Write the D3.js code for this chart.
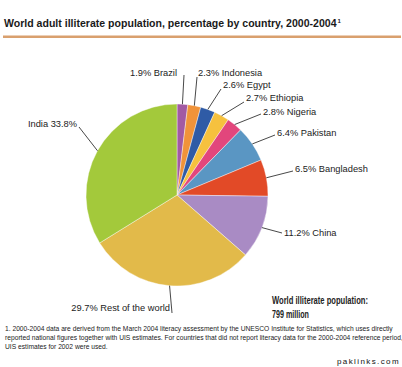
<!DOCTYPE html>
<html>
<head>
<meta charset="utf-8">
<title>World adult illiterate population</title>
<style>
  body { margin: 0; background: #fff; }
  svg { display: block; }
  text { font-family: "Liberation Sans", Arial, sans-serif; }
</style>
</head>
<body>
<svg id="viz" width="402" height="367"></svg>
<script src="https://cdn.jsdelivr.net/npm/d3@7/dist/d3.min.js"></script>
<script>
// data
var countries = ["Brazil", "Indonesia", "Egypt", "Ethiopia", "Nigeria", "Pakistan", "Bangladesh", "China", "Rest of the world", "India"];
var shares = [1.9, 2.3, 2.6, 2.7, 2.8, 6.4, 6.5, 11.2, 29.7, 33.8];
var palette = ["#a25aa3", "#f0933a", "#2f5ba6", "#f6c13e", "#e2467c", "#5a96c3", "#e24a27", "#a98bc4", "#e2ba4a", "#a3c93b"];

// label placement: [text x, baseline y, anchor, line end x, line end y]
var labelPos = {
  "Brazil":            [177, 76, "end",   184, 75],
  "Indonesia":         [198, 76, "start", 197, 77],
  "Egypt":             [223, 88, "start", 221, 89],
  "Ethiopia":          [246, 101, "start", 244, 102],
  "Nigeria":           [263, 115, "start", 261, 114],
  "Pakistan":          [277, 136, "start", 275, 135],
  "Bangladesh":        [295, 172, "start", 293, 171],
  "China":             [284, 236, "start", 282, 233],
  "Rest of the world": [170, 311, "end",   172, 313],
  "India":             [77, 127, "end",   79, 127]
};

var svg = d3.select("#viz");
var cx = 177, cy = 195, r = 91;

// squeeze a text horizontally so it spans w pixels
function squeeze(t, x, y, w) {
  var n = t.node().getComputedTextLength();
  t.attr("x", 0).attr("y", 0)
    .attr("transform", `translate(${x},${y}) scale(${w / n},1)`);
}

// title
var title = svg.append("text")
  .attr("font-size", "10.5px").attr("font-weight", "bold").attr("fill", "#1a1a1a")
  .text("World adult illiterate population, percentage by country, 2000-2004");
squeeze(title, 4, 27, 333);
svg.append("text")
  .attr("x", 337.5).attr("y", 23)
  .attr("font-size", "6px").attr("font-weight", "bold").attr("fill", "#1a1a1a")
  .text("1");

svg.append("rect").attr("x", 3).attr("y", 35.5).attr("width", 398).attr("height", 2.5).attr("fill", "#d9a06e");

var rows = countries.map((c, i) => ({country: c, value: shares[i]}));
var color = d3.scaleOrdinal().domain(countries).range(palette);

var pie = d3.pie().sort(null).value(d => d.value);
var arcs = pie(rows);
var arc = d3.arc().innerRadius(0).outerRadius(r);
var edge = d3.arc().innerRadius(r).outerRadius(r);

var g = svg.append("g").attr("transform", `translate(${cx},${cy})`);

g.selectAll("path")
  .data(arcs)
  .enter().append("path")
  .attr("d", arc)
  .attr("fill", d => color(d.data.country))
  .attr("stroke", "#fff")
  .attr("stroke-width", 0.4);

// leader lines
svg.selectAll("line.lead")
  .data(arcs)
  .enter().append("line")
  .attr("class", "lead")
  .attr("x1", d => cx + edge.centroid(d)[0])
  .attr("y1", d => cy + edge.centroid(d)[1])
  .attr("x2", d => labelPos[d.data.country][3])
  .attr("y2", d => labelPos[d.data.country][4])
  .attr("stroke", "#333")
  .attr("stroke-width", 0.9);

// labels
svg.selectAll("text.lbl")
  .data(arcs)
  .enter().append("text")
  .attr("class", "lbl")
  .attr("x", d => labelPos[d.data.country][0])
  .attr("y", d => labelPos[d.data.country][1])
  .attr("text-anchor", d => labelPos[d.data.country][2])
  .attr("font-size", "9.3px")
  .attr("fill", "#222")
  .text(d => d.data.country == "India" ? "India " + d.data.value.toFixed(1) + "%" : d.data.value.toFixed(1) + "% " + d.data.country);

// total
var tot1 = svg.append("text")
  .attr("font-size", "10.5px").attr("font-weight", "bold").attr("fill", "#222")
  .text("World illiterate population:");
squeeze(tot1, 272, 304, 96);
var tot2 = svg.append("text")
  .attr("font-size", "10.5px").attr("font-weight", "bold").attr("fill", "#222")
  .text("799 million");
squeeze(tot2, 272, 318, 37);

// footnote
var notes = [
  "1. 2000-2004 data are derived from the March 2004 literacy assessment by the UNESCO Institute for Statistics, which uses directly",
  "reported national figures together with UIS estimates. For countries that did not report literacy data for the 2000-2004 reference period,",
  "UIS estimates for 2002 were used."
];
svg.selectAll("text.note")
  .data(notes)
  .enter().append("text")
  .attr("class", "note")
  .attr("x", 5)
  .attr("y", (d, i) => 331 + i * 9)
  .attr("font-size", "6.7px")
  .attr("fill", "#222")
  .text(d => d);

svg.append("text")
  .attr("x", 400).attr("y", 364)
  .attr("text-anchor", "end")
  .attr("font-family", "DejaVu Sans Mono, monospace")
  .attr("font-size", "8px")
  .attr("letter-spacing", "1.4px")
  .attr("fill", "#111")
  .text("paklinks.com");
</script>
</body>
</html>
